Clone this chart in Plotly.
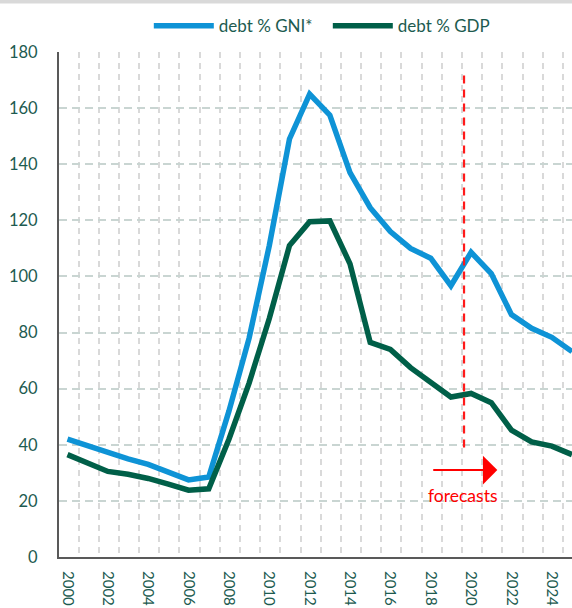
import plotly.graph_objects as go

# Annual series, % of national income
years = list(range(2000, 2026))
debt_gni = [42, 39.5, 37, 35, 33, 30.5, 27.5, 28.5, 52, 78, 111, 149, 165, 157.5,
            137, 124.5, 116, 110, 106.5, 96.7, 108.6, 101, 86.4, 81.5, 78.3, 73.2]
debt_gdp = [36.5, 33.5, 30.5, 29.5, 28, 26, 23.8, 24.3, 42, 62, 85, 111, 119.5, 119.8,
            104.5, 76.5, 74, 67.5, 62.5, 57, 58.3, 55, 45.2, 41, 39.5, 36.5]
series_names = ["debt % GNI*", "debt % GDP"]

# Forecast marker: dashed divider and arrow
forecast_x = 2019.65
forecast_span = [39, 172]
arrow_from, arrow_to, arrow_level = 2018.05, 2021.3, 31
forecast_label = "forecasts"
label_pos = (2019.6, 22)

tick_years = list(range(2000, 2026, 2))

BLUE = "#0e93d6"
GREEN = "#005f48"
TEXT = "#1d5b50"
FONT = "Lato"

fig = go.Figure()
fig.add_trace(go.Scatter(x=years, y=debt_gni, mode="lines", name=series_names[0],
                         line=dict(color=BLUE, width=5.5)))
fig.add_trace(go.Scatter(x=years, y=debt_gdp, mode="lines", name=series_names[1],
                         line=dict(color=GREEN, width=5.5)))
fig.add_trace(go.Scatter(x=[forecast_x, forecast_x], y=forecast_span, mode="lines",
                         showlegend=False, hoverinfo="skip",
                         line=dict(color="#ff1a1a", width=2.2, dash="8px,6px")))

fig.add_annotation(x=arrow_to, y=arrow_level, ax=arrow_from, ay=arrow_level,
                   xref="x", yref="y", axref="x", ayref="y", text="",
                   showarrow=True, arrowhead=1, arrowsize=2.4, arrowwidth=2,
                   arrowcolor="#ff0000")
fig.add_annotation(x=label_pos[0], y=label_pos[1], xref="x", yref="y",
                   text=forecast_label, showarrow=False,
                   font=dict(family=FONT, size=17.5, color="#ff0000"))

# thin grey band along the top edge
fig.add_shape(type="rect", xref="paper", yref="paper", x0=-0.2, x1=1.2,
              y0=1.0958, y1=1.2, fillcolor="#d9d9d9", line_width=0, layer="below")

fig.update_layout(
    width=572, height=608,
    margin=dict(l=59, r=0, t=52, b=51, autoexpand=False),
    paper_bgcolor="white", plot_bgcolor="white",
    font=dict(family=FONT, size=16, color=TEXT),
    showlegend=True,
    legend=dict(orientation="h", x=0.524, xanchor="center", y=1.051, yanchor="middle",
                font=dict(family=FONT, size=17, color=TEXT), itemwidth=60,
                entrywidth=104, bgcolor="rgba(0,0,0,0)", tracegroupgap=0),
)
fig.update_xaxes(
    range=[1999.58, 2025.0], tickmode="array", tickvals=tick_years,
    ticktext=[str(y) for y in tick_years], tickangle=90,
    tickfont=dict(family=FONT, size=15, color=TEXT),
    showgrid=False, zeroline=False, automargin=False,
    showline=True, linecolor="#595959", linewidth=2, ticks="",
    ticklabelstandoff=9,
    minor=dict(tick0=2000.55, dtick=1, showgrid=True, gridcolor="#d9d9d9",
               gridwidth=1.5, griddash="6px,5px", ticks=""),
)
fig.update_yaxes(
    range=[0, 180], dtick=20, tick0=0,
    tickfont=dict(family=FONT, size=16.5, color=TEXT),
    showgrid=True, gridcolor="#c9d5d2", gridwidth=1.5, griddash="8px,5px",
    zeroline=False, showline=True, linecolor="#595959", linewidth=2, ticks="",
    ticklabelstandoff=16, automargin=False,
)

fig.write_html("out.html")
